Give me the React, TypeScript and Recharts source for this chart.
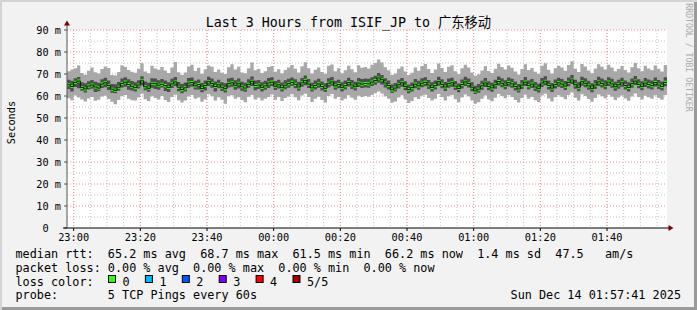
import React from 'react';
import { ComposedChart, Area, Line, XAxis, YAxis, CartesianGrid } from 'recharts';

const FONT = '"DejaVu Sans Mono", "Noto Sans CJK SC", monospace';

// one sample per minute, 22:58 .. 01:57, five TCP pings each (sorted: min, 2nd, median, 4th, max)
const medianMs = [
  65.1, 64.3, 66.2, 66.8, 63.9, 63.2, 64.5, 65.0, 64.1, 63.6, 65.4, 66.0, 64.8, 63.1, 62.6, 64.0, 65.7, 66.3, 65.2, 64.4,
  63.8, 65.0, 66.9, 64.2, 63.5, 65.8, 65.6, 64.9, 65.3, 64.7, 63.9, 65.5, 66.4, 64.0, 62.9, 63.7, 65.9, 66.1, 64.6, 65.2,
  63.4, 64.8, 66.5, 65.7, 64.3, 65.1, 64.0, 63.3, 65.6, 66.0, 64.9, 65.8, 64.2, 63.6, 65.3, 66.7, 64.8, 65.0, 63.9, 64.6,
  65.9, 66.3, 64.4, 65.1, 63.8, 64.9, 65.6, 66.2, 65.3, 64.1, 66.0, 67.1, 65.4, 63.7, 64.8, 65.5, 64.3, 63.5, 65.8, 66.4,
  64.6, 65.2, 63.9, 64.7, 66.1, 65.0, 64.2, 65.9, 65.4, 65.7, 65.5, 66.3, 67.0, 68.2, 67.4, 65.9, 64.8, 62.8, 63.6, 65.1,
  66.0, 64.4, 62.9, 63.8, 65.4, 64.6, 65.8, 66.2, 65.0, 63.9, 64.7, 66.5, 65.3, 64.1, 65.6, 66.0, 64.5, 63.4, 65.2, 66.4,
  65.7, 64.0, 62.3, 63.1, 64.6, 65.9, 64.4, 63.7, 65.1, 66.6, 65.8, 64.9, 66.1, 65.5, 64.3, 63.2, 65.0, 66.3, 64.7, 65.4,
  64.1, 63.3, 65.9, 66.7, 64.8, 63.6, 65.2, 66.0, 65.4, 64.5, 66.2, 67.3, 65.1, 64.0, 66.5, 65.8, 64.6, 63.5, 65.0, 66.4,
  65.7, 64.9, 66.3, 65.5, 64.2, 65.1, 66.0, 64.8, 63.9, 65.6, 66.8, 65.3, 64.4, 65.9, 65.2, 64.7, 66.1, 65.0, 64.3, 66.2,
];

const lowMs = [
  63.2, 62.0, 64.1, 63.5, 62.4, 61.6, 62.9, 63.3, 61.8, 62.2, 63.6, 64.0, 62.7, 61.5, 61.2, 62.4, 63.9, 64.2, 62.8, 62.5,
  62.1, 63.4, 64.8, 62.6, 61.9, 63.7, 63.2, 62.8, 63.9, 62.3, 61.8, 63.6, 64.5, 62.2, 61.3, 62.0, 63.8, 64.3, 62.9, 63.0,
  61.7, 62.5, 64.6, 63.8, 62.1, 63.5, 62.3, 61.6, 63.9, 64.2, 62.8, 63.4, 62.4, 61.9, 63.7, 64.5, 62.6, 63.2, 62.0, 62.8,
  63.6, 64.5, 62.7, 63.4, 62.0, 63.1, 63.8, 64.6, 63.5, 62.4, 64.2, 64.9, 63.6, 62.0, 62.9, 63.7, 62.5, 61.8, 63.9, 64.7,
  62.8, 63.5, 62.1, 62.9, 64.3, 63.2, 62.5, 64.1, 63.6, 63.9, 63.7, 64.5, 65.1, 66.0, 65.2, 63.9, 62.9, 61.4, 62.0, 63.4,
  64.2, 62.6, 61.3, 62.0, 63.5, 62.8, 64.0, 64.4, 63.2, 62.1, 62.9, 64.7, 63.5, 62.3, 63.8, 64.2, 62.7, 61.7, 63.4, 64.6,
  63.9, 62.2, 60.9, 61.5, 62.8, 64.1, 62.6, 61.9, 63.3, 64.8, 64.0, 63.1, 64.3, 63.7, 62.5, 61.6, 63.2, 64.5, 62.9, 63.6,
  62.3, 61.6, 64.1, 64.9, 63.0, 61.8, 63.4, 64.2, 63.6, 62.7, 64.4, 65.5, 63.3, 62.2, 64.7, 64.0, 62.8, 61.7, 63.2, 64.6,
  63.9, 63.1, 64.5, 63.7, 62.4, 63.3, 64.2, 63.0, 62.1, 63.8, 65.0, 63.5, 62.6, 64.1, 63.4, 62.9, 64.3, 63.2, 62.5, 64.4,
];

const highMs = [
  67.4, 66.9, 68.1, 68.6, 66.2, 65.8, 66.7, 67.3, 66.5, 66.0, 67.6, 68.3, 67.0, 65.5, 65.3, 66.4, 68.0, 68.5, 67.6, 66.8,
  66.3, 67.2, 69.0, 66.6, 66.0, 68.1, 67.9, 67.2, 67.7, 67.0, 66.2, 67.8, 68.6, 66.4, 65.5, 66.1, 68.2, 68.4, 66.9, 67.5,
  65.9, 67.1, 68.7, 68.0, 66.6, 67.4, 66.3, 65.8, 67.9, 68.3, 67.2, 68.0, 66.5, 66.0, 67.6, 68.9, 67.1, 67.3, 66.2, 66.9,
  68.2, 68.5, 66.8, 67.4, 66.1, 67.2, 67.8, 68.4, 67.6, 66.5, 68.2, 69.3, 67.7, 66.0, 67.1, 67.8, 66.6, 65.8, 68.1, 68.6,
  66.9, 67.4, 66.2, 67.0, 68.3, 67.3, 66.5, 68.2, 67.7, 68.0, 67.8, 68.5, 69.2, 70.4, 69.6, 68.1, 67.1, 65.2, 65.9, 67.4,
  68.2, 66.7, 65.2, 66.1, 67.7, 66.9, 68.1, 68.5, 67.3, 66.2, 67.0, 68.8, 67.6, 66.4, 67.9, 68.3, 66.8, 65.7, 67.5, 68.7,
  67.9, 66.3, 64.7, 65.4, 66.9, 68.2, 66.7, 66.0, 67.4, 68.9, 68.1, 67.2, 68.4, 67.8, 66.6, 65.5, 67.3, 68.6, 67.0, 67.7,
  66.4, 65.6, 68.2, 69.0, 67.1, 65.9, 67.5, 68.3, 67.7, 66.8, 68.4, 69.6, 67.4, 66.3, 68.8, 68.1, 66.9, 65.8, 67.3, 68.7,
  68.0, 67.2, 68.5, 67.8, 66.5, 67.4, 68.3, 67.1, 66.2, 67.9, 69.1, 67.6, 66.7, 68.2, 67.5, 67.0, 68.4, 67.3, 66.6, 68.5,
];

const minMs = [
  59.0, 58.1, 60.2, 59.3, 58.4, 57.5, 58.9, 59.6, 57.8, 58.3, 59.8, 60.1, 58.6, 57.4, 56.3, 58.2, 60.0, 60.5, 58.8, 58.1,
  57.9, 59.3, 61.0, 58.5, 57.7, 59.9, 59.1, 58.4, 60.0, 58.2, 57.3, 59.6, 60.6, 58.1, 57.0, 57.9, 59.8, 60.4, 58.7, 59.3,
  57.4, 58.5, 60.8, 59.9, 58.0, 59.4, 58.3, 56.5, 59.9, 60.3, 58.7, 59.4, 58.2, 57.2, 59.7, 60.5, 58.4, 59.2, 57.9, 58.8,
  59.6, 60.7, 58.3, 59.5, 57.7, 59.1, 59.8, 60.8, 59.4, 58.1, 60.2, 61.0, 59.5, 57.3, 58.8, 59.7, 58.2, 57.0, 60.0, 60.9,
  58.7, 59.5, 57.9, 58.8, 60.3, 59.2, 58.3, 60.1, 59.6, 60.0, 59.7, 60.5, 61.3, 62.0, 61.1, 59.9, 58.8, 56.9, 57.5, 59.3,
  60.3, 58.4, 56.8, 57.7, 59.4, 58.6, 60.1, 60.6, 59.1, 57.9, 58.7, 60.9, 59.4, 58.0, 59.9, 60.4, 58.5, 57.2, 59.3, 60.7,
  59.9, 58.0, 56.5, 57.2, 58.7, 60.2, 58.4, 57.6, 59.2, 60.9, 60.0, 59.0, 60.4, 59.6, 58.2, 57.1, 59.1, 60.6, 58.8, 59.5,
  58.1, 57.3, 60.2, 61.0, 58.9, 57.5, 59.4, 60.3, 59.6, 58.5, 60.5, 61.6, 59.2, 58.0, 60.8, 60.0, 58.6, 57.4, 59.1, 60.7,
  59.9, 59.0, 60.6, 59.7, 58.2, 59.3, 60.2, 58.9, 57.8, 59.8, 61.1, 59.5, 58.4, 60.1, 59.4, 58.7, 60.3, 59.1, 58.3, 60.5,
];

const maxMs = [
  71.2, 72.0, 72.6, 73.9, 70.4, 69.7, 71.5, 72.9, 70.8, 70.2, 72.3, 73.4, 72.7, 69.5, 69.3, 70.9, 74.0, 73.2, 71.8, 71.0,
  70.6, 72.4, 74.9, 71.1, 70.3, 73.7, 72.5, 71.9, 73.2, 71.6, 70.5, 73.0, 75.5, 70.8, 69.6, 70.7, 73.4, 74.2, 71.4, 72.8,
  70.1, 72.2, 73.9, 73.3, 70.9, 72.1, 70.6, 70.0, 73.1, 74.4, 72.0, 73.3, 70.7, 70.3, 72.6, 75.2, 71.7, 72.3, 70.4, 71.2,
  73.2, 73.6, 71.0, 72.2, 70.3, 71.8, 72.9, 74.1, 72.4, 70.7, 73.5, 75.3, 72.6, 70.2, 71.9, 73.0, 70.9, 70.1, 73.7, 74.3,
  71.3, 72.6, 70.3, 71.7, 73.8, 72.2, 70.8, 74.0, 72.8, 73.2, 72.5, 74.2, 75.0, 76.6, 75.2, 73.1, 71.7, 69.6, 70.2, 72.4,
  73.4, 71.1, 69.5, 70.6, 72.9, 71.5, 73.6, 74.5, 72.3, 70.4, 72.1, 74.8, 72.7, 70.9, 73.3, 74.0, 71.2, 70.0, 72.6, 74.2,
  73.0, 70.7, 69.2, 69.9, 71.6, 73.5, 71.4, 70.5, 72.4, 74.7, 73.2, 72.0, 73.9, 72.8, 71.1, 69.8, 72.3, 74.4, 71.8, 72.7,
  71.0, 70.1, 73.7, 74.9, 71.9, 70.2, 72.6, 73.8, 73.0, 71.5, 74.1, 75.8, 72.4, 70.9, 74.6, 73.4, 71.6, 70.3, 72.5, 74.4,
  73.3, 72.0, 74.2, 72.9, 71.2, 72.3, 73.6, 71.8, 70.7, 73.1, 75.0, 72.6, 71.3, 73.8, 72.5, 71.7, 73.9, 72.4, 71.1, 74.1,
];

// minutes counted from 22:58
const xTickMinutes = [2, 22, 42, 62, 82, 102, 122, 142, 162];
const xTickLabels = ['23:00', '23:20', '23:40', '00:00', '00:20', '00:40', '01:00', '01:20', '01:40'];
const yTicks = [0, 10, 20, 30, 40, 50, 60, 70, 80, 90];
const yMinorGrid = [5, 15, 25, 35, 45, 55, 65, 75, 85];
const xMinorGrid = Array.from({ length: 36 }, (_, i) => 2 + i * 5);

const statLines = [
  'median rtt:  65.2 ms avg  68.7 ms max  61.5 ms min  66.2 ms now  1.4 ms sd  47.5   am/s',
  'packet loss: 0.00 % avg  0.00 % max  0.00 % min  0.00 % now',
];
const lossLegend = [
  { label: '0', color: '#26ff00' },
  { label: '1', color: '#00b8ff' },
  { label: '2', color: '#0059ff' },
  { label: '3', color: '#7e00ff' },
  { label: '4', color: '#ff0000' },
  { label: '5/5', color: '#a10000' },
];

const rows = medianMs.map((m, i) => ({
  t: i,
  outer: [minMs[i], maxMs[i]],
  inner: [lowMs[i], highMs[i]],
  median: m,
  band: [m - 0.7, m + 0.7],
}));
// closing point so the last step has a width
rows.push({ ...rows[rows.length - 1], t: rows.length });

const YTick = (props: any) => {
  const { x, y, payload } = props;
  const label = payload.value === 0 ? '0\u00a0\u00a0' : `${payload.value} m`;
  return (
    <text x={x} y={y + 3.8} textAnchor="end" fontFamily={FONT} fontSize={10.3} fill="#000">
      {label}
    </text>
  );
};

const App = () => {
  return (
    <div
      style={{
        position: 'absolute',
        left: 0,
        top: 0,
        width: 697,
        height: 310,
        background: '#f2f2f2',
        boxShadow: 'inset 2px 2px 0 #d4d4d4, inset -3px -3px 0 #9a9a9a',
        overflow: 'hidden',
      }}
    >
      <div style={{ position: 'absolute', left: 0, top: 0 }}>
        <ComposedChart width={697} height={260} data={rows} margin={{ top: 30, right: 30, left: 0, bottom: 0 }}>
          <CartesianGrid
            fill="#ffffff"
            stroke="#c4c4c4"
            strokeDasharray="1 2"
            horizontalValues={yMinorGrid}
            verticalValues={xMinorGrid}
          />
          <CartesianGrid
            stroke="#ee9494"
            strokeDasharray="1 2"
            horizontalValues={yTicks.filter((v) => v > 0)}
            verticalValues={xTickMinutes}
          />
          <XAxis
            dataKey="t"
            type="number"
            domain={[0, 180]}
            ticks={xTickMinutes}
            interval={0}
            tickFormatter={(v: number) => xTickLabels[xTickMinutes.indexOf(v)]}
            allowDataOverflow
            height={32}
            tickSize={3}
            tickMargin={3}
            axisLine={{ stroke: '#000' }}
            tickLine={{ stroke: '#000' }}
            tick={{ fontSize: 10.3, fontFamily: FONT, fill: '#000' }}
          />
          <YAxis
            type="number"
            domain={[0, 90]}
            ticks={yTicks}
            interval={0}
            width={67}
            tickSize={3}
            tickMargin={3}
            axisLine={{ stroke: '#555' }}
            tickLine={{ stroke: '#555' }}
            tick={<YTick />}
          />
          <Area
            type="stepAfter"
            dataKey="outer"
            fill="#a8a8a8"
            fillOpacity={1}
            stroke="none"
            isAnimationActive={false}
            dot={false}
            activeDot={false}
          />
          <Area
            type="stepAfter"
            dataKey="inner"
            fill="#4e4e4e"
            fillOpacity={1}
            stroke="none"
            isAnimationActive={false}
            dot={false}
            activeDot={false}
          />
          <Line
            type="stepAfter"
            dataKey="median"
            stroke="#111"
            strokeWidth={1}
            dot={false}
            activeDot={false}
            isAnimationActive={false}
          />
          <Area
            type="stepAfter"
            dataKey="band"
            fill="#26ff00"
            fillOpacity={1}
            stroke="none"
            isAnimationActive={false}
            dot={false}
            activeDot={false}
          />
        </ComposedChart>
      </div>

      <svg
        width={697}
        height={310}
        style={{ position: 'absolute', left: 0, top: 0, pointerEvents: 'none' }}
        fontFamily={FONT}
      >
        {/* axis extensions and arrows */}
        <line x1={67} y1={30} x2={67} y2={25} stroke="#555" />
        <polygon points="64,25.5 70,25.5 67,20.5" fill="#7f0000" />
        <line x1={63} y1={228} x2={67} y2={228} stroke="#000" />
        <line x1={667} y1={228} x2={669} y2={228} stroke="#000" />
        <polygon points="668.5,225 668.5,231 673.5,228" fill="#7f0000" />

        <text x={348.5} y={26.5} textAnchor="middle" fontSize={13.3} fill="#000" style={{ whiteSpace: 'pre' }}>
          Last 3 Hours from ISIF_JP to 广东移动
        </text>

        <text transform="translate(14.5,122.5) rotate(-90)" textAnchor="middle" fontSize={10.3} fill="#000">
          Seconds
        </text>

        <text transform="translate(686,57.5) rotate(90)" textAnchor="middle" fontSize={8.2} fill="#aaaaaa">
          RRDTOOL / TOBI OETIKER
        </text>

        {statLines.map((s, i) => (
          <text key={i} x={15.5} y={258.3 + i * 13.6} fontSize={11.8} fill="#000" style={{ whiteSpace: 'pre' }}>
            {s}
          </text>
        ))}

        <text x={15.5} y={285.5} fontSize={11.8} fill="#000">
          loss color:
        </text>
        {lossLegend.map((d, i) => (
          <g key={d.label}>
            <rect x={108.5 + i * 36.9} y={275.5} width={7} height={7} fill={d.color} stroke="#000" />
            <text x={122.5 + i * 36.9} y={285.5} fontSize={11.8} fill="#000">
              {d.label}
            </text>
          </g>
        ))}

        <text x={15.5} y={299.1} fontSize={11.8} fill="#000" style={{ whiteSpace: 'pre' }}>
          {'probe:       5 TCP Pings every 60s'}
        </text>
        <text x={681} y={299.1} textAnchor="end" fontSize={11.8} fill="#000">
          Sun Dec 14 01:57:41 2025
        </text>
      </svg>
    </div>
  );
};

export default App;
